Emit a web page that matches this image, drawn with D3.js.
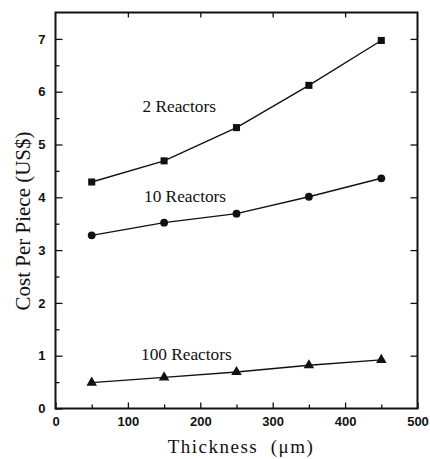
<!DOCTYPE html>
<html>
<head>
<meta charset="utf-8">
<script src="https://cdn.jsdelivr.net/npm/d3@7/dist/d3.min.js"></script>
<style>
  html, body { margin: 0; padding: 0; background: #fff; }
  svg { display: block; }
</style>
</head>
<body>
<svg id="chart" width="430" height="459"></svg>
<script>
// ---- data ----
const thickness = [50, 150, 250, 350, 450];
const reactors2 = [4.29, 4.69, 5.32, 6.12, 6.97];
const reactors10 = [3.28, 3.52, 3.69, 4.01, 4.36];
const reactors100 = [0.49, 0.59, 0.69, 0.82, 0.92];
const seriesNames = ["2 Reactors", "10 Reactors", "100 Reactors"];
const xTicks = [0, 100, 200, 300, 400, 500];
const xMinorTicks = [50, 150, 250, 350, 450];
const yTicks = [0, 1, 2, 3, 4, 5, 6, 7];
const yMinorTicks = [0.5, 1.5, 2.5, 3.5, 4.5, 5.5, 6.5];
const xTitle = "Thickness  (\u03bcm)";
const yTitle = "Cost Per Piece (US$)";

// ---- layout ----
const svg = d3.select("#chart");
const L = 55.5, R = 417.5, T = 12.5, B = 408.5;
const x = d3.scaleLinear().domain([0, 500]).range([L, R]);
const y = d3.scaleLinear().domain([0, 7.5]).range([B, T]);

const tickFont = "'Liberation Sans', Arial, sans-serif";
const serif = "'Liberation Serif', 'Times New Roman', serif";

function styleAxis(g) {
  g.select(".domain").remove();
  g.selectAll(".tick line").attr("stroke", "#111").attr("stroke-width", 1.3);
  g.selectAll(".tick text").attr("fill", "#111")
    .attr("font-family", tickFont).attr("font-weight", "bold").attr("font-size", 13);
}

// bottom axis
svg.append("g").attr("transform", `translate(0,${B})`)
  .call(d3.axisBottom(x).tickValues(xTicks).tickSize(-6).tickPadding(8).tickFormat(d3.format("d")))
  .call(styleAxis);
svg.append("g").attr("transform", `translate(0,${B})`)
  .call(d3.axisBottom(x).tickValues(xMinorTicks).tickSize(-4).tickFormat(""))
  .call(styleAxis);
// top axis
svg.append("g").attr("transform", `translate(0,${T})`)
  .call(d3.axisTop(x).tickValues(xTicks.slice(1, -1)).tickSize(-5).tickFormat(""))
  .call(styleAxis);
// left axis
svg.append("g").attr("transform", `translate(${L},0)`)
  .call(d3.axisLeft(y).tickValues(yTicks).tickSize(-7).tickPadding(10).tickFormat(d3.format("d")))
  .call(styleAxis);
svg.append("g").attr("transform", `translate(${L},0)`)
  .call(d3.axisLeft(y).tickValues(yMinorTicks).tickSize(-4).tickFormat(""))
  .call(styleAxis);
// right axis
svg.append("g").attr("transform", `translate(${R},0)`)
  .call(d3.axisRight(y).tickValues(yTicks.slice(1)).tickSize(-7).tickFormat(""))
  .call(styleAxis);

// frame
svg.append("rect").attr("x", L).attr("y", T).attr("width", R - L).attr("height", B - T)
  .attr("fill", "none").attr("stroke", "#111").attr("stroke-width", 2);

// ---- series ----
const line = d3.line().x(d => x(d[0])).y(d => y(d[1]));
const allSeries = [reactors2, reactors10, reactors100];
allSeries.forEach((vals) => {
  const pts = thickness.map((t, i) => [t, vals[i]]);
  svg.append("path").attr("d", line(pts)).attr("fill", "none")
    .attr("stroke", "#111").attr("stroke-width", 1.4);
});

const symbols = [d3.symbolSquare, d3.symbolCircle, d3.symbolTriangle];
const sizes = [50, 48, 48];
allSeries.forEach((vals, s) => {
  svg.append("g").selectAll("path").data(thickness.map((t, i) => [t, vals[i]]))
    .join("path")
    .attr("transform", d => `translate(${x(d[0])},${y(d[1])})`)
    .attr("d", d3.symbol().type(symbols[s]).size(sizes[s]))
    .attr("fill", "#111");
});

// series labels
const labelPos = [[142.5, 111.5], [144, 201.5], [141, 359.5]];
seriesNames.forEach((n, i) => {
  svg.append("text").attr("x", labelPos[i][0]).attr("y", labelPos[i][1])
    .attr("font-family", serif).attr("font-size", 17.3).attr("fill", "#111").text(n);
});

// axis titles
svg.append("text").attr("x", 241).attr("y", 453)
  .attr("text-anchor", "middle").attr("font-family", serif).attr("font-size", 19)
  .attr("letter-spacing", 1.5).style("white-space", "pre").attr("fill", "#111").text(xTitle);
svg.append("text").attr("transform", "translate(30,221) rotate(-90)")
  .attr("text-anchor", "middle").attr("font-family", serif).attr("font-size", 21)
  .attr("fill", "#111").text(yTitle);
</script>
</body>
</html>
